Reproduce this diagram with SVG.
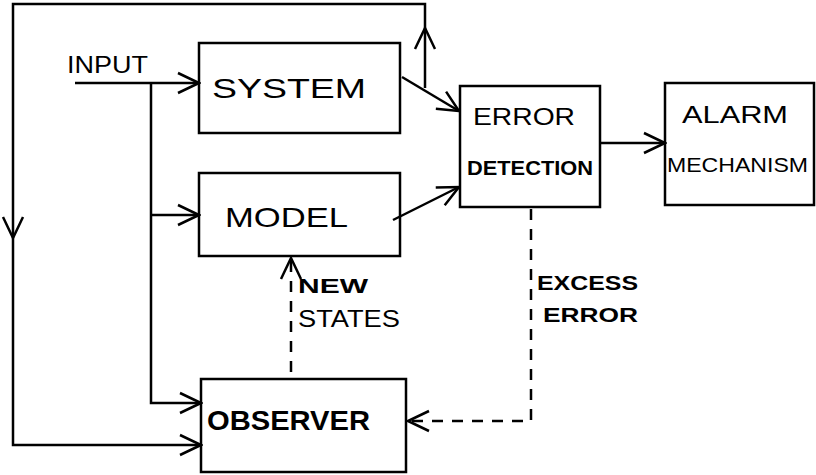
<svg xmlns="http://www.w3.org/2000/svg" width="816" height="475" viewBox="0 0 816 475">
<style>
.box{fill:none;stroke:#000;stroke-width:2.5}
.ln{fill:none;stroke:#000;stroke-width:2.5}
.dash{fill:none;stroke:#000;stroke-width:2.5;stroke-dasharray:11 9}
text{font-family:"Liberation Sans",Arial,sans-serif;fill:#000}
.big{font-size:28px}
.mid{font-size:23px}
.sm{font-size:21px}
</style>
<defs>
<marker id="arr" viewBox="-24 -13 26 26" refX="0" refY="0" markerWidth="26" markerHeight="26" markerUnits="userSpaceOnUse" orient="auto">
<path d="M-21,-10 L0,0 L-21,10" fill="none" stroke="#000" stroke-width="2.5" stroke-linejoin="miter"/>
</marker>
</defs>
<rect width="816" height="475" fill="#fff"/>
<g id="system"><rect class="box" x="199" y="43" width="201" height="90"/><text class="big" x="212" y="98" textLength="154" lengthAdjust="spacingAndGlyphs">SYSTEM</text></g>
<g id="model"><rect class="box" x="199" y="173" width="201" height="83"/><text class="big" x="225" y="227" font-size="32" textLength="123" lengthAdjust="spacingAndGlyphs">MODEL</text></g>
<g id="observer"><rect class="box" x="201" y="379" width="205" height="93"/><text class="big" x="207" y="430" font-weight="bold" textLength="163" lengthAdjust="spacingAndGlyphs">OBSERVER</text></g>
<g id="error-detection"><rect class="box" x="460" y="86" width="140" height="121"/><text class="mid" x="473" y="125" textLength="102" lengthAdjust="spacingAndGlyphs">ERROR</text><text class="sm" x="467" y="175" font-weight="bold" textLength="126" lengthAdjust="spacingAndGlyphs">DETECTION</text></g>
<g id="alarm-mechanism"><rect class="box" x="665" y="83" width="149" height="122"/><text class="mid" x="682" y="123" textLength="106" lengthAdjust="spacingAndGlyphs">ALARM</text><text class="sm" x="667" y="172" textLength="141" lengthAdjust="spacingAndGlyphs">MECHANISM</text></g>
<g id="labels">
<text class="mid" x="67" y="73" textLength="81" lengthAdjust="spacingAndGlyphs">INPUT</text>
<text class="sm" x="298" y="293" font-weight="bold" textLength="70" lengthAdjust="spacingAndGlyphs">NEW</text>
<text class="mid" x="298" y="327" textLength="102" lengthAdjust="spacingAndGlyphs">STATES</text>
<text class="sm" x="537" y="290" font-weight="bold" textLength="101" lengthAdjust="spacingAndGlyphs">EXCESS</text>
<text class="sm" x="543" y="322" font-weight="bold" textLength="95" lengthAdjust="spacingAndGlyphs">ERROR</text>
</g>
<g id="connectors">
<path class="ln" d="M75,83 L199,83" marker-end="url(#arr)"/>
<path class="ln" d="M151,83 L151,403 L201,403" marker-end="url(#arr)"/>
<path class="ln" d="M151,215 L199,215" marker-end="url(#arr)"/>
<path class="ln" d="M402,77 L459,111" marker-end="url(#arr)"/>
<path class="ln" d="M393,220 L459,187" marker-end="url(#arr)"/>
<path class="ln" d="M600,143 L665,143" marker-end="url(#arr)"/>
<path class="ln" d="M425,88 L425,28" marker-end="url(#arr)"/>
<path class="ln" d="M425,28 L425,4 L13,4 L13,238" marker-end="url(#arr)"/>
<path class="ln" d="M13,238 L13,445 L201,445" marker-end="url(#arr)"/>
<path class="dash" d="M531,209 L531,421 L408,421" marker-end="url(#arr)"/>
<path class="dash" d="M291,372 L291,258" marker-end="url(#arr)"/>
</g>
</svg>
